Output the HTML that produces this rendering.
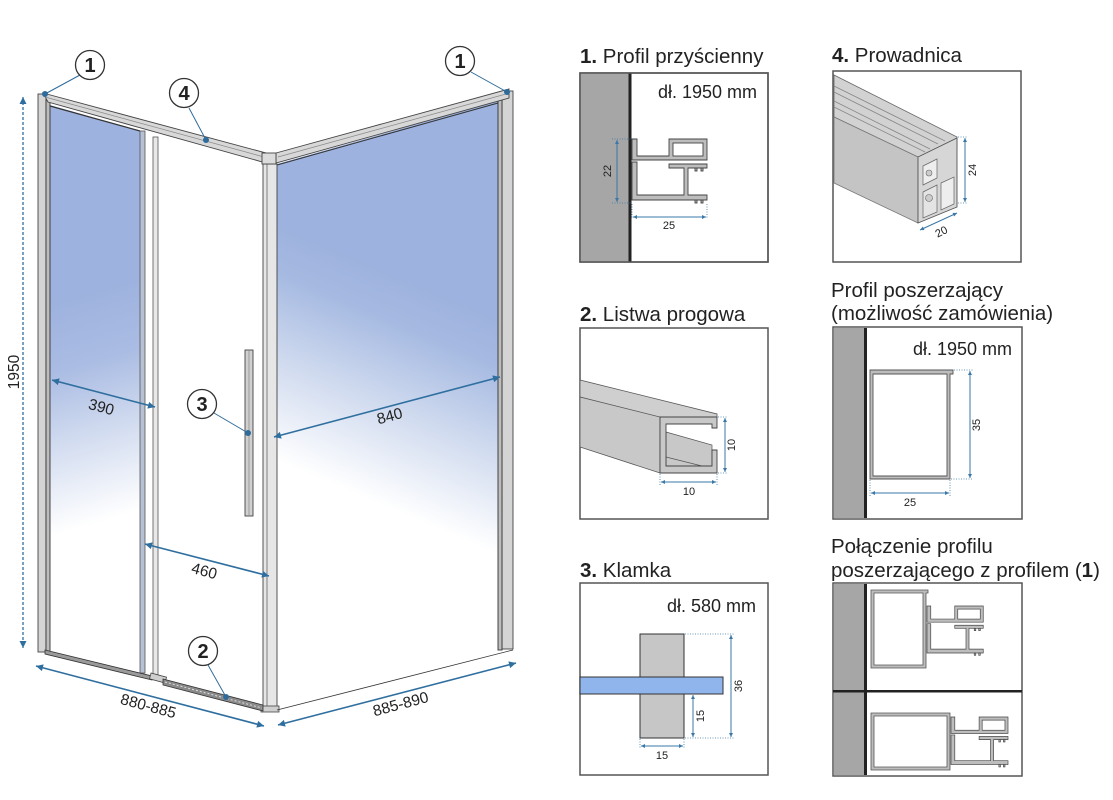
<!DOCTYPE html>
<html><head><meta charset="utf-8"><style>
html,body{margin:0;padding:0;background:#fff;}
svg{display:block;}
text{font-family:"Liberation Sans",Arial,sans-serif;}
</style></head><body>
<svg width="1113" height="800" viewBox="0 0 1113 800" xmlns="http://www.w3.org/2000/svg">
<defs>
<marker id="a" viewBox="0 0 10 10" refX="10" refY="5" markerWidth="9" markerHeight="7" markerUnits="userSpaceOnUse" orient="auto-start-reverse"><path d="M0,0 L10,5 L0,10 z" fill="#2f6f9f"/></marker>
<marker id="s" viewBox="0 0 10 10" refX="10" refY="5" markerWidth="6" markerHeight="4" markerUnits="userSpaceOnUse" orient="auto-start-reverse"><path d="M0,0 L10,5 L0,10 z" fill="#3a78a8"/></marker>
<linearGradient id="gr" gradientUnits="userSpaceOnUse" x1="455" y1="300" x2="370" y2="500">
<stop offset="0" stop-color="#9db2de"/><stop offset="0.2" stop-color="#a5b9e1"/><stop offset="0.6" stop-color="#d3ddf0"/><stop offset="1" stop-color="#ffffff"/></linearGradient>
<linearGradient id="gl" gradientUnits="userSpaceOnUse" x1="62" y1="300" x2="125" y2="515">
<stop offset="0" stop-color="#9db2de"/><stop offset="0.3" stop-color="#aabce3"/><stop offset="0.65" stop-color="#d6dff1"/><stop offset="1" stop-color="#ffffff"/></linearGradient>
<g id="prof" fill="#bdbdbd" stroke="#444" stroke-width="0.9">
<path d="M0,0 H5 V17 H37 V0 H75 V21 H0 Z"/>
<rect x="41" y="4" width="30" height="13" fill="#fff"/>
<path d="M0,23 H5 V56 H52 V29 H37 V25 H75 V29 H56 V56 H75 V61 H0 Z"/>
<rect x="63" y="29" width="2" height="3"/><rect x="69" y="29" width="2" height="3"/>
<rect x="63" y="61" width="2" height="3"/><rect x="69" y="61" width="2" height="3"/>
</g>
</defs>

<!-- ============ LEFT SHOWER DIAGRAM ============ -->
<polygon points="50,105 140,131 140,674 50,650" fill="url(#gl)"/>
<polygon points="277,164 498,101 498,650 277,710" fill="url(#gr)"/>

<rect x="38" y="94" width="8" height="558" fill="#d4d4d4" stroke="#444" stroke-width="0.9"/>
<rect x="46" y="100" width="4" height="552" fill="#bdbdbd" stroke="#333" stroke-width="0.9"/>
<rect x="502" y="91" width="11" height="558" fill="#d4d4d4" stroke="#444" stroke-width="0.9"/>
<rect x="498" y="100" width="4" height="550" fill="#bdbdbd" stroke="#333" stroke-width="0.9"/>
<polygon points="43,93 266,153 266,163 48,102" fill="#d8d8d8" stroke="#444" stroke-width="0.9"/>
<line x1="45" y1="97" x2="264" y2="157" stroke="#888" stroke-width="0.7"/>
<line x1="50" y1="106" x2="140" y2="131" stroke="#333" stroke-width="1.2"/>
<polygon points="276,153 509,89 509,98 276,163" fill="#d8d8d8" stroke="#444" stroke-width="0.9"/>
<line x1="278" y1="157" x2="506" y2="94" stroke="#888" stroke-width="0.7"/>
<line x1="277" y1="165" x2="498" y2="103" stroke="#333" stroke-width="1"/>
<rect x="263" y="164" width="14" height="544" fill="#e6e6e6" stroke="#444" stroke-width="0.9"/>
<line x1="267" y1="164" x2="267" y2="708" stroke="#666" stroke-width="0.8"/>
<rect x="262" y="153" width="14" height="11" fill="#dcdcdc" stroke="#444" stroke-width="0.9"/>
<rect x="261" y="706" width="18" height="6" fill="#cfcfcf" stroke="#444" stroke-width="0.8"/>
<rect x="140" y="131" width="5" height="542" fill="#b7c1d6" stroke="#555" stroke-width="0.8"/>
<rect x="153" y="137" width="5" height="540" fill="#e8e8e8" stroke="#555" stroke-width="0.8"/>
<polygon points="45,650 152,676 152,680 45,654" fill="#9a9a9a" stroke="#333" stroke-width="0.8"/>
<rect x="150" y="675" width="16" height="6" fill="#cfcfcf" stroke="#444" stroke-width="0.8" transform="rotate(15 158 678)"/>
<polygon points="163,679 263,705 263,711 163,685" fill="#8a8a8a" stroke="#333" stroke-width="0.8"/>
<line x1="165" y1="682" x2="262" y2="708" stroke="#ddd" stroke-width="1" stroke-dasharray="2 2"/>
<line x1="277" y1="710" x2="513" y2="650" stroke="#333" stroke-width="0.8"/>
<rect x="245" y="350" width="8" height="166" fill="#d0d0d0" stroke="#444" stroke-width="0.9"/>
<line x1="249" y1="350" x2="249" y2="516" stroke="#888" stroke-width="0.7"/>

<line x1="23" y1="97" x2="23" y2="648" stroke="#2f6f9f" stroke-width="1.3" stroke-dasharray="3 2" marker-start="url(#a)" marker-end="url(#a)"/>
<text x="0" y="0" font-size="15.5" fill="#222" text-anchor="middle" transform="translate(19 372) rotate(-90)">1950</text>

<line x1="52" y1="380" x2="155" y2="407" stroke="#2f6f9f" stroke-width="1.6" marker-start="url(#a)" marker-end="url(#a)"/>
<text font-size="15.5" fill="#222" text-anchor="middle" transform="translate(100 412) rotate(15)">390</text>

<line x1="274" y1="437" x2="500" y2="377" stroke="#2f6f9f" stroke-width="1.6" marker-start="url(#a)" marker-end="url(#a)"/>
<text font-size="15.5" fill="#222" text-anchor="middle" transform="translate(391 421) rotate(-15)">840</text>

<line x1="145" y1="544" x2="269" y2="576" stroke="#2f6f9f" stroke-width="1.6" marker-start="url(#a)" marker-end="url(#a)"/>
<text font-size="15.5" fill="#222" text-anchor="middle" transform="translate(203 576) rotate(15)">460</text>

<line x1="36" y1="666" x2="264" y2="726" stroke="#2f6f9f" stroke-width="1.6" marker-start="url(#a)" marker-end="url(#a)"/>
<text font-size="15.5" fill="#222" text-anchor="middle" transform="translate(147 711) rotate(15)">880-885</text>

<line x1="278" y1="725" x2="516" y2="663" stroke="#2f6f9f" stroke-width="1.6" marker-start="url(#a)" marker-end="url(#a)"/>
<text font-size="15.5" fill="#222" text-anchor="middle" transform="translate(402 709) rotate(-15)">885-890</text>

<g stroke="#2f6b9a" stroke-width="1" fill="none">
<line x1="80" y1="75" x2="45" y2="94"/>
<line x1="189" y1="108" x2="206" y2="140"/>
<line x1="471" y1="72" x2="507" y2="92"/>
<line x1="214" y1="413" x2="248" y2="433"/>
<line x1="208" y1="665" x2="226" y2="697"/>
</g>
<g fill="#2f6b9a">
<circle cx="45" cy="94" r="3"/><circle cx="206" cy="140" r="3"/><circle cx="507" cy="92" r="3"/>
<circle cx="248" cy="433" r="3"/><circle cx="226" cy="697" r="3"/>
</g>
<g fill="#fff" stroke="#333" stroke-width="1.3">
<circle cx="90" cy="65" r="14.5"/><circle cx="184" cy="93" r="14.5"/><circle cx="460" cy="61" r="14.5"/>
<circle cx="202" cy="404" r="14.5"/><circle cx="203" cy="651" r="14.5"/>
</g>
<g font-size="20" font-weight="bold" fill="#222" text-anchor="middle">
<text x="90" y="72">1</text><text x="184" y="100">4</text><text x="460" y="68">1</text>
<text x="202" y="411">3</text><text x="203" y="658">2</text>
</g>

<!-- ============ RIGHT PANELS ============ -->
<g font-size="20.5" fill="#222">
<text x="580" y="63"><tspan font-weight="bold">1.</tspan> Profil przyścienny</text>
<text x="832" y="62"><tspan font-weight="bold">4.</tspan> Prowadnica</text>
<text x="580" y="321"><tspan font-weight="bold">2.</tspan> Listwa progowa</text>
<text x="831" y="297">Profil poszerzający</text>
<text x="831" y="320">(możliwość zamówienia)</text>
<text x="580" y="577"><tspan font-weight="bold">3.</tspan> Klamka</text>
<text x="831" y="553">Połączenie profilu</text>
<text x="831" y="577">poszerzającego z profilem (<tspan font-weight="bold">1</tspan>)</text>
</g>

<!-- Panel 1 -->
<rect x="580" y="73" width="188" height="189" fill="#fff" stroke="#555" stroke-width="1.5"/>
<rect x="580" y="73" width="49" height="189" fill="#a6a6a6"/>
<rect x="628.5" y="73" width="3" height="189" fill="#222"/>
<rect x="580" y="73" width="188" height="189" fill="none" stroke="#555" stroke-width="1.5"/>
<text x="757" y="98" font-size="18" fill="#222" text-anchor="end">dł. 1950 mm</text>
<use href="#prof" transform="translate(632 139)"/>
<g stroke="#3a78a8" stroke-width="0.8" stroke-dasharray="1 1.5" fill="none">
<line x1="612" y1="139" x2="632" y2="139"/><line x1="612" y1="203" x2="632" y2="203"/>
<line x1="707" y1="204" x2="707" y2="219"/><line x1="632" y1="204" x2="632" y2="219"/>
</g>
<line x1="617" y1="140" x2="617" y2="202" stroke="#3a78a8" stroke-width="1" marker-start="url(#s)" marker-end="url(#s)"/>
<line x1="633" y1="217" x2="706" y2="217" stroke="#3a78a8" stroke-width="1" marker-start="url(#s)" marker-end="url(#s)"/>
<text font-size="11" fill="#222" text-anchor="middle" transform="translate(611 171) rotate(-90)">22</text>
<text x="669" y="229" font-size="11" fill="#222" text-anchor="middle">25</text>

<!-- Panel 4 -->
<rect x="833" y="71" width="188" height="191" fill="#fff" stroke="#555" stroke-width="1.5"/>
<polygon points="834,75 957,137 957,147 918,157 834,117" fill="#d2d2d2" stroke="#666" stroke-width="0.8"/>
<g stroke="#888" stroke-width="0.8">
<line x1="834" y1="86" x2="945" y2="141"/><line x1="834" y1="92" x2="938" y2="144"/>
<line x1="834" y1="101" x2="930" y2="149"/><line x1="834" y1="107" x2="925" y2="152"/>
</g>
<polygon points="834,117 918,157 918,223 834,183" fill="#c4c4c4" stroke="#777" stroke-width="0.8"/>
<polygon points="918,157 957,138 957,207 918,223" fill="#d6d6d6" stroke="#555" stroke-width="0.9"/>
<polygon points="923,166 937,159 937,178 923,185" fill="#eee" stroke="#666" stroke-width="0.7"/>
<polygon points="923,192 937,185 937,212 923,218" fill="#e4e4e4" stroke="#666" stroke-width="0.7"/>
<polygon points="941,183 954,177 954,204 941,210" fill="#eee" stroke="#666" stroke-width="0.7"/>
<circle cx="929" cy="173" r="3" fill="#ccc" stroke="#666" stroke-width="0.6"/>
<circle cx="929" cy="198" r="3.5" fill="#ccc" stroke="#666" stroke-width="0.6"/>
<g stroke="#3a78a8" stroke-width="0.8" stroke-dasharray="1 1.5"><line x1="958" y1="137" x2="968" y2="137"/><line x1="958" y1="203" x2="968" y2="203"/></g>
<line x1="965" y1="138" x2="965" y2="202" stroke="#3a78a8" stroke-width="1" marker-start="url(#s)" marker-end="url(#s)"/>
<text font-size="11" fill="#222" text-anchor="middle" transform="translate(976 170) rotate(-90)">24</text>
<line x1="920" y1="230" x2="957" y2="213" stroke="#3a78a8" stroke-width="1" marker-start="url(#s)" marker-end="url(#s)"/>
<text font-size="11" fill="#222" text-anchor="middle" transform="translate(943 235) rotate(-27)">20</text>

<!-- Panel 2 -->
<rect x="580" y="328" width="188" height="191" fill="#fff" stroke="#555" stroke-width="1.5"/>
<polygon points="580,380 717,414 717,418 660,418 580,397" fill="#cfcfcf" stroke="#555" stroke-width="0.8"/>
<polygon points="580,397 660,417 660,473 580,447" fill="#c8c8c8" stroke="#555" stroke-width="0.8"/>
<polygon points="666,432 712,445 712,466 666,466" fill="#c8c8c8" stroke="#555" stroke-width="0.7"/>
<line x1="666" y1="457" x2="710" y2="468" stroke="#555" stroke-width="0.7"/>
<path d="M660,417 H717 V428 H712 V424 H666 V466 H712 V450 H717 V473 H660 Z" fill="#c8c8c8" stroke="#444" stroke-width="0.9"/>
<g stroke="#3a78a8" stroke-width="0.8" stroke-dasharray="1 1.5"><line x1="718" y1="417" x2="728" y2="417"/><line x1="718" y1="473" x2="728" y2="473"/><line x1="660" y1="474" x2="660" y2="485"/><line x1="717" y1="474" x2="717" y2="485"/></g>
<line x1="725" y1="418" x2="725" y2="472" stroke="#3a78a8" stroke-width="1" marker-start="url(#s)" marker-end="url(#s)"/>
<line x1="661" y1="482" x2="716" y2="482" stroke="#3a78a8" stroke-width="1" marker-start="url(#s)" marker-end="url(#s)"/>
<text font-size="11" fill="#222" text-anchor="middle" transform="translate(735 445) rotate(-90)">10</text>
<text x="689" y="495" font-size="11" fill="#222" text-anchor="middle">10</text>

<!-- Panel Profil poszerzajacy -->
<rect x="833" y="327" width="189" height="192" fill="#fff" stroke="#555" stroke-width="1.5"/>
<rect x="834" y="328" width="31" height="190" fill="#a6a6a6"/>
<rect x="864" y="328" width="3" height="190" fill="#222"/>
<text x="1012" y="355" font-size="18" fill="#222" text-anchor="end">dł. 1950 mm</text>
<path d="M870,370 H953 V374 H950 V479 H870 Z M873,374 V476 H947 V374 Z" fill="#bdbdbd" fill-rule="evenodd" stroke="#555" stroke-width="0.9"/>
<g stroke="#3a78a8" stroke-width="0.8" stroke-dasharray="1 1.5"><line x1="954" y1="370" x2="973" y2="370"/><line x1="951" y1="479" x2="973" y2="479"/><line x1="870" y1="480" x2="870" y2="496"/><line x1="950" y1="480" x2="950" y2="496"/></g>
<line x1="970" y1="371" x2="970" y2="478" stroke="#3a78a8" stroke-width="1" marker-start="url(#s)" marker-end="url(#s)"/>
<line x1="871" y1="493" x2="949" y2="493" stroke="#3a78a8" stroke-width="1" marker-start="url(#s)" marker-end="url(#s)"/>
<text font-size="11" fill="#222" text-anchor="middle" transform="translate(980 425) rotate(-90)">35</text>
<text x="910" y="506" font-size="11" fill="#222" text-anchor="middle">25</text>

<!-- Panel 3 -->
<rect x="580" y="583" width="188" height="192" fill="#fff" stroke="#555" stroke-width="1.5"/>
<text x="756" y="612" font-size="18" fill="#222" text-anchor="end">dł. 580 mm</text>
<rect x="640" y="634" width="44" height="104" fill="#c6c6c6" stroke="#333" stroke-width="1"/>
<rect x="580" y="677" width="143" height="17" fill="#8fb5ec" stroke="#333" stroke-width="1"/>
<g stroke="#3a78a8" stroke-width="0.8" stroke-dasharray="1 1.5"><line x1="685" y1="634" x2="735" y2="634"/><line x1="685" y1="738" x2="735" y2="738"/><line x1="640" y1="739" x2="640" y2="749"/><line x1="684" y1="739" x2="684" y2="749"/></g>
<line x1="731" y1="635" x2="731" y2="737" stroke="#3a78a8" stroke-width="1" marker-start="url(#s)" marker-end="url(#s)"/>
<line x1="693" y1="695" x2="693" y2="737" stroke="#3a78a8" stroke-width="1" marker-start="url(#s)" marker-end="url(#s)"/>
<line x1="641" y1="746" x2="683" y2="746" stroke="#3a78a8" stroke-width="1" marker-start="url(#s)" marker-end="url(#s)"/>
<text font-size="11" fill="#222" text-anchor="middle" transform="translate(742 686) rotate(-90)">36</text>
<text font-size="11" fill="#222" text-anchor="middle" transform="translate(704 716) rotate(-90)">15</text>
<text x="662" y="759" font-size="11" fill="#222" text-anchor="middle">15</text>

<!-- Panel combo -->
<rect x="833" y="583" width="189" height="193" fill="#fff" stroke="#555" stroke-width="1.5"/>
<rect x="834" y="584" width="31" height="191" fill="#a6a6a6"/>
<rect x="864" y="584" width="3" height="191" fill="#222"/>
<rect x="833" y="690" width="189" height="2.5" fill="#222"/>
<path d="M871,590 H928 V593 H926 V668 H871 Z M874,593 V665 H923 V593 Z" fill="#bdbdbd" fill-rule="evenodd" stroke="#555" stroke-width="0.8"/>
<use href="#prof" transform="translate(927 606) scale(0.75 0.77)"/>
<path d="M871,713 H950 V770 H871 Z M874,716 V767 H947 V716 Z" fill="#bdbdbd" fill-rule="evenodd" stroke="#555" stroke-width="0.8"/>
<use href="#prof" transform="translate(951 717) scale(0.76 0.78)"/>
</svg>
</body></html>
